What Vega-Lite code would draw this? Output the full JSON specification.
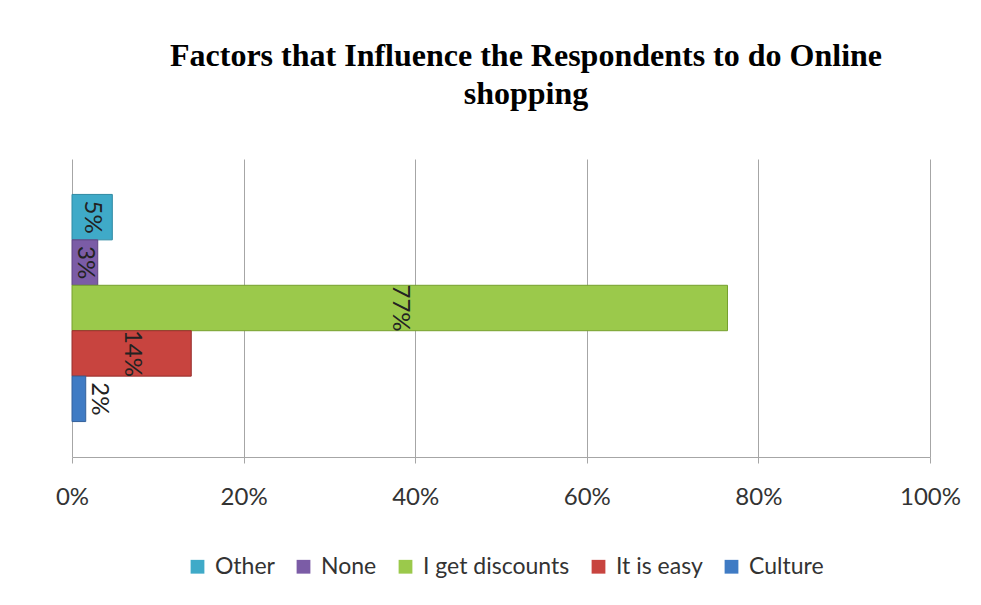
{
  "$schema": "https://vega.github.io/schema/vega-lite/v6.json",
  "width": 858,
  "height": 298,
  "autosize": {"type": "none"},
  "padding": {"left": 72, "top": 159, "right": 51, "bottom": 148},
  "background": "white",
  "config": {
    "view": {"stroke": null},
    "font": "Lato"
  },
  "title": {
    "text": ["Factors that Influence the Respondents to do  Online", "shopping"],
    "font": "Liberation Serif",
    "fontWeight": "bold",
    "fontSize": 32,
    "lineHeight": 38,
    "color": "#000000",
    "anchor": "middle",
    "dx": 25,
    "offset": 48
  },
  "data": {
    "values": [
      {"factor": "Other", "share": 0.047, "label": "5%"},
      {"factor": "None", "share": 0.030, "label": "3%"},
      {"factor": "I get discounts", "share": 0.764, "label": "77%"},
      {"factor": "It is easy", "share": 0.139, "label": "14%"},
      {"factor": "Culture", "share": 0.016, "label": "2%"}
    ]
  },
  "transform": [
    {"calculate": "datum.share < 0.02 ? datum.share + 0.015 : datum.share / 2", "as": "labelPos"}
  ],
  "encoding": {
    "y": {
      "field": "factor",
      "type": "nominal",
      "scale": {"domain": ["Other", "None", "I get discounts", "It is easy", "Culture"], "paddingInner": 0, "paddingOuter": 0.78},
      "axis": null
    }
  },
  "layer": [
    {
      "mark": {"type": "bar", "strokeWidth": 1},
      "encoding": {
        "x": {
          "field": "share",
          "type": "quantitative",
          "scale": {"domain": [0, 1]},
          "axis": {
            "title": null,
            "values": [0, 0.2, 0.4, 0.6, 0.8, 1],
            "format": ".0%",
            "grid": true,
            "gridColor": "#a6a6a6",
            "gridWidth": 1,
            "domainColor": "#a6a6a6",
            "tickColor": "#a6a6a6",
            "tickSize": 6,
            "labelFlush": false,
            "labelFontSize": 24,
            "labelColor": "#333333",
            "labelPadding": 22,
            "labelFont": "Lato"
          }
        },
        "color": {
          "field": "factor",
          "type": "nominal",
          "scale": {
            "domain": ["Other", "None", "I get discounts", "It is easy", "Culture"],
            "range": ["#3FAAC8", "#7B5CA6", "#9BC94B", "#C8443F", "#3F7BC4"]
          },
          "legend": {
            "title": null,
            "orient": "none",
            "legendX": 114,
            "legendY": 396,
            "direction": "horizontal",
            "symbolType": "square",
            "symbolSize": 190,
            "symbolStrokeWidth": 0,
            "labelFontSize": 23,
            "labelColor": "#333333",
            "labelFont": "Lato",
            "columnPadding": 17,
            "labelOffset": 6
          }
        },
        "stroke": {
          "field": "factor",
          "type": "nominal",
          "scale": {
            "domain": ["Other", "None", "I get discounts", "It is easy", "Culture"],
            "range": ["#2f8aa3", "#5e4581", "#76a02f", "#962f2c", "#34619a"]
          },
          "legend": null
        }
      }
    },
    {
      "mark": {"type": "text", "angle": 90, "fontSize": 24, "color": "#222222", "align": "center", "baseline": "middle", "font": "Lato"},
      "encoding": {
        "x": {"field": "labelPos", "type": "quantitative"},
        "text": {"field": "label"}
      }
    }
  ]
}
